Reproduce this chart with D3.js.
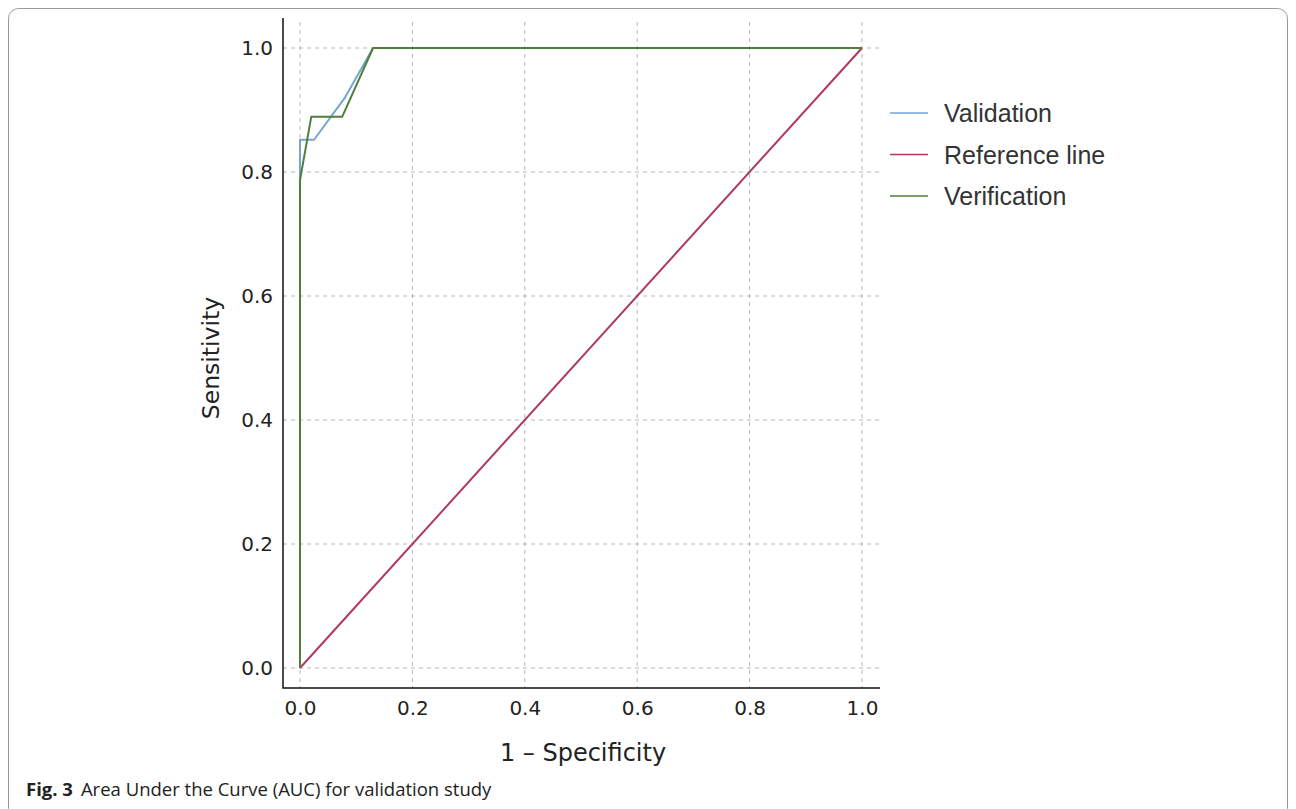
<!DOCTYPE html>
<html><head><meta charset="utf-8">
<script src="https://cdn.jsdelivr.net/npm/d3@7"></script>
<style>body{margin:0;background:#fff}svg{display:block}</style>
</head><body>
<script>
const ticks = [0, 0.2, 0.4, 0.6, 0.8, 1.0];
const validationFPR  = [0, 0, 0.025, 0.08, 0.13, 1.0];
const validationSens = [0, 0.852, 0.852, 0.92, 1.0, 1.0];
const verificationFPR  = [0, 0, 0.02, 0.075, 0.13, 1.0];
const verificationSens = [0, 0.787, 0.889, 0.889, 1.0, 1.0];
const referenceFPR  = [0, 1];
const referenceSens = [0, 1];
const seriesNames = ["Validation", "Reference line", "Verification"];
const seriesColors = ["#74a5d6", "#b0395c", "#4f7f3c"];

const W = 1296, H = 809;
const svg = d3.select("body").append("svg").attr("width", W).attr("height", H);

svg.append("rect").attr("x", 8.5).attr("y", 8.5).attr("width", 1279).attr("height", 810)
  .attr("rx", 10).attr("fill", "none").attr("stroke", "#9a9a9a").attr("stroke-width", 1);

const x = d3.scaleLinear().domain([0, 1]).range([300, 862]);
const y = d3.scaleLinear().domain([0, 1]).range([668, 48]);
const axL = 283, axB = 688, axR = 880, axT = 18;

// grid
const grid = svg.append("g").attr("stroke", "#b5b5b5").attr("stroke-width", 1).attr("stroke-dasharray", "4,4");
ticks.forEach(t => {
  grid.append("line").attr("x1", x(t)).attr("x2", x(t)).attr("y1", axT + 4).attr("y2", axB);
  grid.append("line").attr("x1", axL).attr("x2", axR).attr("y1", y(t)).attr("y2", y(t));
});

// axes
const xAxis = svg.append("g").attr("transform", `translate(0,${axB})`)
  .call(d3.axisBottom(x).tickValues(ticks).tickFormat(d3.format(".1f")).tickSize(0).tickPadding(13));
xAxis.select(".domain").remove();
xAxis.selectAll("text").attr("font-family", "DejaVu Sans").attr("font-size", 20).attr("fill", "#222");
const yAxis = svg.append("g").attr("transform", `translate(${axL},0)`)
  .call(d3.axisLeft(y).tickValues(ticks).tickFormat(d3.format(".1f")).tickSize(0).tickPadding(10));
yAxis.select(".domain").remove();
yAxis.selectAll("text").attr("font-family", "DejaVu Sans").attr("font-size", 20).attr("fill", "#222");

svg.append("path").attr("d", `M${axL},${axT}V${axB}H${axR}`).attr("fill", "none")
  .attr("stroke", "#111").attr("stroke-width", 1.5);

svg.append("text").attr("x", 583).attr("y", 761).attr("text-anchor", "middle")
  .attr("font-family", "DejaVu Sans").attr("font-size", 24).attr("fill", "#222").text("1 – Specificity");
svg.append("text").attr("transform", "translate(219,358) rotate(-90)").attr("text-anchor", "middle")
  .attr("font-family", "DejaVu Sans").attr("font-size", 23.5).attr("fill", "#222").text("Sensitivity");

// lines
const line = d3.line().x(d => x(d[0])).y(d => y(d[1]));
const series = [
  d3.zip(validationFPR, validationSens),
  d3.zip(referenceFPR, referenceSens),
  d3.zip(verificationFPR, verificationSens)
];
series.forEach((s, i) => {
  svg.append("path").datum(s).attr("d", line).attr("fill", "none")
    .attr("stroke", seriesColors[i]).attr("stroke-width", 2).attr("stroke-linejoin", "round");
});

// legend
seriesNames.forEach((n, i) => {
  const ly = 113 + i * 41.5;
  svg.append("line").attr("x1", 890).attr("x2", 928).attr("y1", ly).attr("y2", ly)
    .attr("stroke", seriesColors[i]).attr("stroke-width", 1.5);
  svg.append("text").attr("x", 944).attr("y", ly + 9).attr("font-family", "Liberation Sans, Arial")
    .attr("font-size", 25).attr("fill", "#333").text(n);
});

// caption
const cap = svg.append("text").attr("x", 26).attr("y", 796).attr("font-family", "Open Sans").attr("font-size", 18.5).attr("fill", "#222");
cap.append("tspan").attr("font-weight", "bold").text("Fig. 3");
cap.append("tspan").attr("dx", 8).text("Area Under the Curve (AUC) for validation study");
</script>
</body></html>
